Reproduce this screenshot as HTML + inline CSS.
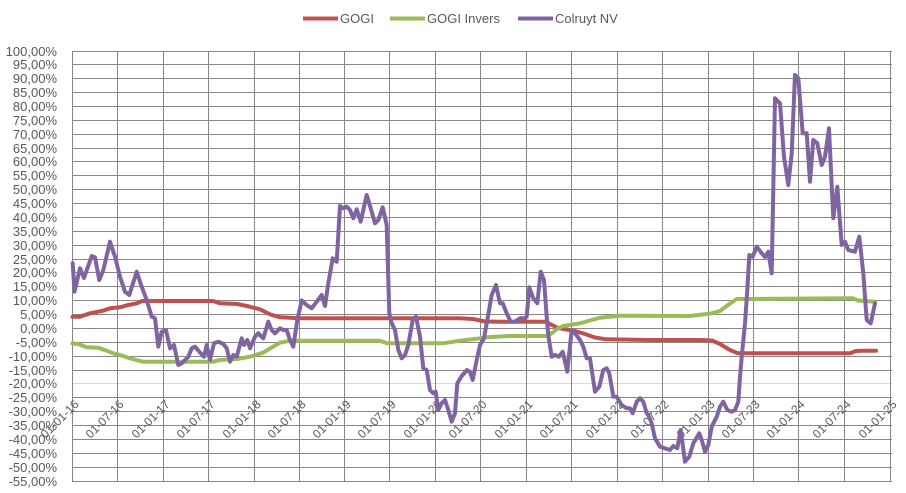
<!DOCTYPE html>
<html><head><meta charset="utf-8"><style>
html,body{margin:0;padding:0;background:#fff;}
svg{display:block;}
text{font-family:"Liberation Sans",Arial,sans-serif;fill:#595959;}
</style></head><body>
<svg width="906" height="493" viewBox="0 0 906 493" xmlns="http://www.w3.org/2000/svg">
<rect width="906" height="493" fill="#fff"/>
<!-- legend -->
<line x1="303" y1="18.5" x2="338" y2="18.5" stroke="#C0504D" stroke-width="4"/>
<text x="340" y="23" font-size="13">GOGI</text>
<line x1="390" y1="18.5" x2="425" y2="18.5" stroke="#9BBB59" stroke-width="4"/>
<text x="427" y="23" font-size="13">GOGI Invers</text>
<line x1="518" y1="18.5" x2="553" y2="18.5" stroke="#8064A2" stroke-width="4"/>
<text x="555" y="23" font-size="13">Colruyt NV</text>

<!-- horizontal gridlines -->
<g stroke="#868686" stroke-width="1">
<line x1="72" x2="892" y1="51.5" y2="51.5"/>
<line x1="72" x2="892" y1="64.5" y2="64.5"/>
<line x1="72" x2="892" y1="78.5" y2="78.5"/>
<line x1="72" x2="892" y1="92.5" y2="92.5"/>
<line x1="72" x2="892" y1="106.5" y2="106.5"/>
<line x1="72" x2="892" y1="120.5" y2="120.5"/>
<line x1="72" x2="892" y1="134.5" y2="134.5"/>
<line x1="72" x2="892" y1="148.5" y2="148.5"/>
<line x1="72" x2="892" y1="161.5" y2="161.5"/>
<line x1="72" x2="892" y1="175.5" y2="175.5"/>
<line x1="72" x2="892" y1="189.5" y2="189.5"/>
<line x1="72" x2="892" y1="203.5" y2="203.5"/>
<line x1="72" x2="892" y1="217.5" y2="217.5"/>
<line x1="72" x2="892" y1="231.5" y2="231.5"/>
<line x1="72" x2="892" y1="245.5" y2="245.5"/>
<line x1="72" x2="892" y1="259.5" y2="259.5"/>
<line x1="72" x2="892" y1="272.5" y2="272.5"/>
<line x1="72" x2="892" y1="286.5" y2="286.5"/>
<line x1="72" x2="892" y1="300.5" y2="300.5"/>
<line x1="72" x2="892" y1="314.5" y2="314.5"/>
<line x1="72" x2="892" y1="328.5" y2="328.5"/>
<line x1="72" x2="892" y1="342.5" y2="342.5"/>
<line x1="72" x2="892" y1="356.5" y2="356.5"/>
<line x1="72" x2="892" y1="370.5" y2="370.5"/>
<line x1="72" x2="892" y1="397.5" y2="397.5"/>
<line x1="72" x2="892" y1="411.5" y2="411.5"/>
<line x1="72" x2="892" y1="425.5" y2="425.5"/>
<line x1="72" x2="892" y1="439.5" y2="439.5"/>
<line x1="72" x2="892" y1="453.5" y2="453.5"/>
<line x1="72" x2="892" y1="467.5" y2="467.5"/>
<line x1="72" x2="892" y1="481.5" y2="481.5"/>
</g>
<line x1="72" x2="892" y1="383.5" y2="383.5" stroke="#d9d9d9" stroke-width="1"/>
<!-- vertical gridlines -->
<g stroke="#868686" stroke-width="1">
<line y1="51" y2="482" x1="72.5" x2="72.5"/>
<line y1="51" y2="482" x1="117.5" x2="117.5"/>
<line y1="51" y2="482" x1="163.5" x2="163.5"/>
<line y1="51" y2="482" x1="208.5" x2="208.5"/>
<line y1="51" y2="482" x1="254.5" x2="254.5"/>
<line y1="51" y2="482" x1="299.5" x2="299.5"/>
<line y1="51" y2="482" x1="344.5" x2="344.5"/>
<line y1="51" y2="482" x1="389.5" x2="389.5"/>
<line y1="51" y2="482" x1="435.5" x2="435.5"/>
<line y1="51" y2="482" x1="480.5" x2="480.5"/>
<line y1="51" y2="482" x1="526.5" x2="526.5"/>
<line y1="51" y2="482" x1="571.5" x2="571.5"/>
<line y1="51" y2="482" x1="617.5" x2="617.5"/>
<line y1="51" y2="482" x1="662.5" x2="662.5"/>
<line y1="51" y2="482" x1="708.5" x2="708.5"/>
<line y1="51" y2="482" x1="753.5" x2="753.5"/>
<line y1="51" y2="482" x1="798.5" x2="798.5"/>
<line y1="51" y2="482" x1="844.5" x2="844.5"/>
<line y1="51" y2="482" x1="890.5" x2="890.5"/>
</g>

<!-- y labels -->
<g font-size="13" text-anchor="end">
<text x="57" y="56">100,00%</text>
<text x="57" y="69">95,00%</text>
<text x="57" y="83">90,00%</text>
<text x="57" y="97">85,00%</text>
<text x="57" y="111">80,00%</text>
<text x="57" y="125">75,00%</text>
<text x="57" y="139">70,00%</text>
<text x="57" y="153">65,00%</text>
<text x="57" y="166">60,00%</text>
<text x="57" y="180">55,00%</text>
<text x="57" y="194">50,00%</text>
<text x="57" y="208">45,00%</text>
<text x="57" y="222">40,00%</text>
<text x="57" y="236">35,00%</text>
<text x="57" y="250">30,00%</text>
<text x="57" y="264">25,00%</text>
<text x="57" y="277">20,00%</text>
<text x="57" y="291">15,00%</text>
<text x="57" y="305">10,00%</text>
<text x="57" y="319">5,00%</text>
<text x="57" y="333">0,00%</text>
<text x="57" y="347">-5,00%</text>
<text x="57" y="361">-10,00%</text>
<text x="57" y="375">-15,00%</text>
<text x="57" y="388">-20,00%</text>
<text x="57" y="402">-25,00%</text>
<text x="57" y="416">-30,00%</text>
<text x="57" y="430">-35,00%</text>
<text x="57" y="444">-40,00%</text>
<text x="57" y="458">-45,00%</text>
<text x="57" y="472">-50,00%</text>
<text x="57" y="486">-55,00%</text>
</g>

<!-- x labels -->
<g font-size="12" text-anchor="end">
<text transform="translate(79.5,405) rotate(-45)">01-01-16</text>
<text transform="translate(124.5,405) rotate(-45)">01-07-16</text>
<text transform="translate(170.5,405) rotate(-45)">01-01-17</text>
<text transform="translate(215.5,405) rotate(-45)">01-07-17</text>
<text transform="translate(261.5,405) rotate(-45)">01-01-18</text>
<text transform="translate(306.5,405) rotate(-45)">01-07-18</text>
<text transform="translate(351.5,405) rotate(-45)">01-01-19</text>
<text transform="translate(396.5,405) rotate(-45)">01-07-19</text>
<text transform="translate(442.5,405) rotate(-45)">01-01-20</text>
<text transform="translate(487.5,405) rotate(-45)">01-07-20</text>
<text transform="translate(533.5,405) rotate(-45)">01-01-21</text>
<text transform="translate(578.5,405) rotate(-45)">01-07-21</text>
<text transform="translate(624.5,405) rotate(-45)">01-01-22</text>
<text transform="translate(669.5,405) rotate(-45)">01-07-22</text>
<text transform="translate(715.5,405) rotate(-45)">01-01-23</text>
<text transform="translate(760.5,405) rotate(-45)">01-07-23</text>
<text transform="translate(805.5,405) rotate(-45)">01-01-24</text>
<text transform="translate(851.5,405) rotate(-45)">01-07-24</text>
<text transform="translate(897.5,405) rotate(-45)">01-01-25</text>
</g>

<!-- GOGI (red) -->
<polyline fill="none" stroke="#C0504D" stroke-width="4" stroke-linejoin="round" stroke-linecap="round"
points="72.5,316.7 80,316.7 90,313.3 103,310.7 110,308.3 120,307.3 128,305 137,303.3 142,301 213,301 220,303.3 237,304 247,306 260,309.3 270,314.3 280,317.3 300,318.3 440,318.3 460,318.3 473,319 485,321.5 500,321.7 546,321.7 552,325 558,328 575,331 585,334 595,337.5 606,339.3 650,340 700,340 712,340.5 720,344 730,350 738,353.3 850,353.3 856,351 862,350.7 876,350.7"/>

<!-- GOGI Invers (green) -->
<polyline fill="none" stroke="#9BBB59" stroke-width="4" stroke-linejoin="round" stroke-linecap="round"
points="72.5,343.3 78,344 86.7,347.3 98,347.7 106.7,350.7 113,353.3 120,355 130,358.3 140,361 143,361.7 213,361.7 220,360 237,359 250,356.7 263,352.7 273,346.7 280,342.7 290,340.7 380,340.7 387,343.3 443,343.3 460,340.7 480,338.3 487,337.3 510,336 546.7,336 552,333 557,329 563,326 580,323.3 590,320.5 600,317.7 620,315.7 690,316 711.7,313.3 720,311 728,305 736.7,299 853,298.3 858,300.5 875,301.7"/>

<!-- Colruyt NV (purple) -->
<polyline fill="none" stroke="#8064A2" stroke-width="4" stroke-linejoin="round" stroke-linecap="round"
points="72.7,263.3 74.5,291.7 80,268.3 84,278 91.7,256 95,257.3 99.3,280 103.3,270 110,241.7 115,256.7 120,276.7 125,291.7 129.3,295 136.7,271.7 141.7,286.7 146.7,300 151.7,316.7 155,318.3 158.3,346.7 161.7,331.7 166,330 170,348.3 174,345 178.3,365 181.7,363.3 185,360 188.3,356.7 191.7,348.3 195,346.7 199.3,351.7 204,356.7 206.7,345 210,360 214,343.3 218.3,341.7 223.3,344 226.7,348.3 230,361.7 233.3,355 236.7,356.7 241.7,338.3 244,345 247.3,340 250,348.3 255,336.7 258.3,333.3 263.3,338.3 268.3,321.7 271.7,330 275,333.3 280,328.3 283.3,330 286.7,330 290,340 293.3,346.7 297.3,320 301.7,300.5 306.7,305 311.7,308.3 316.7,301.7 321.7,295 325,306 328.3,283.3 332.7,258.3 336.7,261.7 340,206 343.3,208.3 346.7,206.7 350,210 353.3,218.3 356.7,209.3 360.7,221.7 366.7,195 371.7,211.7 375,223.3 378.3,220 382.7,207.3 386.7,225 389.3,313.3 391.7,323.3 395,330 398.3,350 401.7,358.3 405,355 408.3,345 412.7,320 416,316.7 420,336.7 423.3,368.3 426.7,370 430,390 433.3,393.3 435.7,391.7 438.3,410 441.7,403.3 445,400 448.3,410 451.7,421.7 455,413.3 457.3,383.3 461.7,376 467,370 470,372 472.7,380 476.7,360 480,345 484,338.3 487.3,320 491.7,295 496,285 500,303.3 502.7,303.3 506.7,313.3 510.7,321.7 515,321.7 520,318.3 525,318.3 526.7,316.7 529.3,287.3 533.3,298.3 537.3,303.3 540.7,271.7 544,280 546.7,316.7 548.3,335 551.7,356.7 555,355 559,356.7 562.7,351.7 567.3,371.7 571.7,330 575,333.3 580,340 583.3,346.7 586.7,358.3 590,358.3 595,391.7 599.3,386.7 603.3,370 606.7,368.3 609.3,373.3 613.3,396.7 616.7,396.7 621.7,405 626.7,408.3 630,408.3 632.7,413.3 636.7,401.7 640,398.3 643.3,401.7 646.7,413.3 648.3,415 651.7,423.3 655,438.3 660,446.7 665,448.3 670,450 673.3,446 677.3,448.3 680.7,430 685,461.7 689.3,456.7 693.3,443.3 699.3,433.3 701.7,440 705,451.7 708.3,445 711.7,426.7 716.7,416.7 720,406.7 723.3,401.7 727.3,410 731.7,411.7 735,410 738.3,401.7 740,376.7 741.7,356.7 745,323.3 747.3,290 749.3,255 752.7,256.7 756.7,246.7 761.7,253.3 765,257 768.3,251.7 771.7,273.3 775,98.3 780,103.3 784,156.7 788.3,185 791.7,153.3 795,75 798.3,78.3 802.7,133.3 806.7,133.3 810,181.7 813.3,140 817.3,143.3 821.7,165 825,156.7 829,128.3 833.3,218.3 837.3,186.7 841.7,245 845,241.7 848.3,250 855,251.7 859.3,236.7 863.3,273.3 866.7,320 870.7,323.3 875,303.3"/>
</svg>
</body></html>
